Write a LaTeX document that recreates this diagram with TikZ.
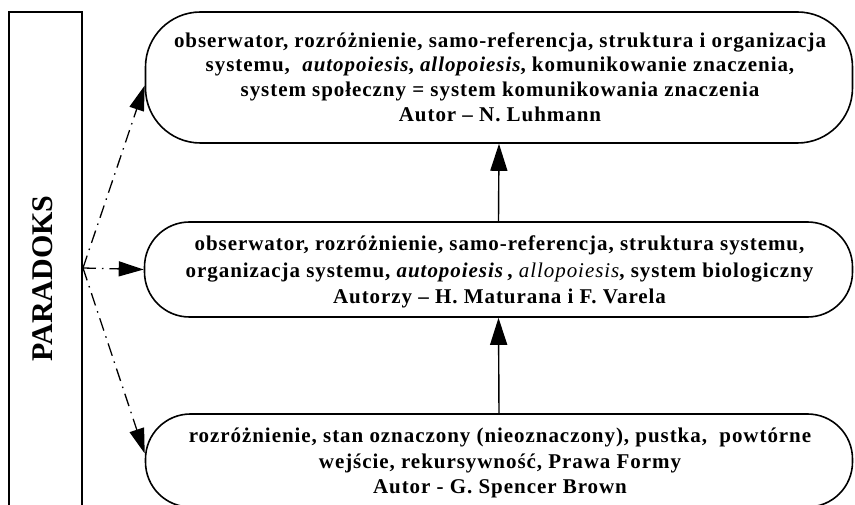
\documentclass[tikz,border=0pt]{standalone}
\usepackage{fontspec}
\setmainfont{Liberation Serif}
\newfontfamily\spacedserif[LetterSpace=4.5]{Liberation Serif}
\usetikzlibrary{arrows.meta,calc}
\begin{document}
\begin{tikzpicture}[x=1pt,y=-1pt,
  stadium/.style={draw, line width=1.6pt, rounded corners=#1, inner sep=0pt},
  boxtext/.style={inner sep=0pt, align=center,
    font=\spacedserif\fontsize{21}{#1}\selectfont\bfseries},
  sidebox/.style={draw, line width=1.6pt, inner sep=0pt},
  solidarrow/.style={line width=1.4pt, -{Triangle[length=27pt,width=17pt]}},
  dasharrow/.style={line width=1.3pt, dash pattern=on 13pt off 6pt on 1.5pt off 6pt,
    -{Triangle[length=25pt,width=15pt]}}]
\useasboundingbox (0,0) rectangle (855,505);
\clip (0,0) rectangle (855,505);

\node[sidebox, minimum width=73pt, minimum height=560pt] (par) at (45.5,292) {};
\node[rotate=90, font=\fontsize{30}{30}\selectfont\bfseries, inner sep=0pt] (lbl) at (43,278.5) {PARADOKS};

\node[stadium=55, minimum width=707pt, minimum height=131pt] (top) at (499,77.5) {};
\node[boxtext=24.8] (toptext) at (500,77)
{obserwator, rozróżnienie, samo-referencja, struktura i organizacja\\
systemu,\ \ \textit{autopoiesis}, \textit{allopoiesis}, komunikowanie znaczenia,\\
system społeczny = system komunikowania znaczenia\\
Autor – N. Luhmann};

\node[stadium=45, minimum width=708pt, minimum height=95pt] (mid) at (498.5,269.5) {};
\node[boxtext=26.5] (midtext) at (499.5,272)
{obserwator, rozróżnienie, samo-referencja, struktura systemu,\\
organizacja systemu, \textit{autopoiesis}\,, {\mdseries\itshape allopoiesis}, system biologiczny\\
Autorzy – H. Maturana i F. Varela};

\node[stadium=45, minimum width=707pt, minimum height=93pt] (bot) at (499,460.5) {};
\node[boxtext=25.5] (bottext) at (500,463)
{rozróżnienie, stan oznaczony (nieoznaczony), pustka,\ \ powtórne\\
wejście, rekursywność, Prawa Formy\\
Autor - G. Spencer Brown};

\draw[solidarrow] (mid.north) -- (top.south);
\draw[solidarrow] (bot.north) -- (mid.south);

\coordinate (src) at (83,268);
\draw[dasharrow] (src) -- ($(top.west)+(0,8)$);
\draw[dasharrow] (src) -- (mid.west);
\draw[dasharrow] (src) -- ($(bot.west)+(0,-7)$);
\end{tikzpicture}
\end{document}
